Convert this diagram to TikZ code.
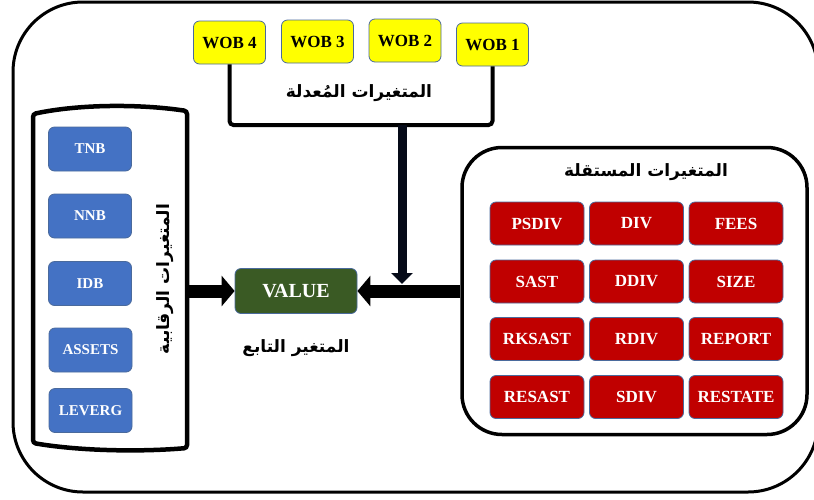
\documentclass[tikz,border=0pt]{standalone}
\usepackage{fontspec}
\setmainfont{Liberation Serif}
\newfontfamily\arabicfont[Script=Arabic]{DejaVu Sans}
\TeXXeTstate=1
\usetikzlibrary{arrows.meta}

\definecolor{wobyellow}{HTML}{FFFF00}
\definecolor{ctrlblue}{HTML}{4472C4}
\definecolor{indred}{HTML}{C00000}
\definecolor{depgreen}{HTML}{3A5A24}
\definecolor{boxline}{HTML}{4A6A9C}
\definecolor{modnavy}{HTML}{050A18}

\tikzset{
  varbox/.style={draw=boxline, line width=0.8pt, rounded corners=6pt, inner sep=0pt, align=center},
  wob/.style={varbox, fill=wobyellow, minimum width=72pt, minimum height=43pt,
    font=\bfseries\fontsize{17}{17}\selectfont},
  ctrl/.style={varbox, fill=ctrlblue, text=white, minimum width=83pt, minimum height=44pt,
    font=\bfseries\fontsize{15}{15}\selectfont},
  indep/.style={varbox, fill=indred, text=white, minimum width=94pt, minimum height=43pt,
    font=\bfseries\fontsize{17}{17}\selectfont},
  dep/.style={varbox, fill=depgreen, text=white, minimum width=122pt, minimum height=45pt,
    font=\bfseries\fontsize{20}{20}\selectfont},
  artitle/.style={font=\arabicfont\bfseries\fontsize{17}{17}\selectfont, inner sep=0pt},
  bigarrow/.style={line width=13pt, -{Triangle[length=13pt,width=30pt]}},
  modarrow/.style={modnavy, line width=9pt, -{Triangle[length=11pt,width=21pt]}},
}

\begin{document}
\begin{tikzpicture}[x=1pt,y=-1pt]
\useasboundingbox (0,0) rectangle (814,499);
\clip (0,0) rectangle (814,499);

\draw[line width=3pt, rounded corners=70pt] (13,2) rectangle (818,492);

% moderating variables
\node[wob] (wob4) at (229.5,42.5) {WOB 4};
\node[wob] (wob3) at (317.5,41.5) {WOB 3};
\node[wob] (wob2) at (405,40.5) {WOB 2};
\node[wob] (wob1) at (492.5,44.5) {WOB 1};
\node[artitle] (modtitle) at (359,93) {\beginR المتغيرات المُعدلة\endR};

\coordinate (join) at (402,125);
\coordinate (hit) at (402,284);
\draw[line width=4pt, rounded corners=4pt] (wob4.south) |- (join) -| (wob1.south);

% dependent variable
\node[dep] (value) at (296,291) {VALUE};
\node[artitle] (deptitle) at (296,348) {\beginR المتغير التابع\endR};

% control variables
\draw[line width=4.5pt, rounded corners=3pt] (33,114) .. controls (80,104) and (140,104) .. (187,111)
  -- (187,448) .. controls (140,452) and (80,451) .. (33,443) -- cycle;
\node[ctrl] (tnb) at (90,149) {TNB};
\node[ctrl] (nnb) at (90,216) {NNB};
\node[ctrl] (idb) at (90,283.5) {IDB};
\node[ctrl] (assets) at (90.5,350) {ASSETS};
\node[ctrl] (leverg) at (90.5,410.5) {LEVERG};
\node[artitle, rotate=90] (ctrltitle) at (165,279) {\beginR المتغيرات الرقابية\endR};
\coordinate (ctrlout) at (188,291);

% independent variables
\node[draw, line width=3.5pt, rounded corners=40pt, minimum width=345pt, minimum height=287pt] (indbox) at (634.5,291) {};
\node[artitle] (indtitle) at (646,172) {\beginR المتغيرات المستقلة\endR};
\node[indep] (psdiv) at (537,223.5) {PSDIV};
\node[indep] (div) at (636.5,223.5) {DIV};
\node[indep] (fees) at (736,223.5) {FEES};
\node[indep] (sast) at (537,281.5) {SAST};
\node[indep] (ddiv) at (636.5,281.5) {DDIV};
\node[indep] (size) at (736,281.5) {SIZE};
\node[indep] (rksast) at (537,339) {RKSAST};
\node[indep] (rdiv) at (636.5,339) {RDIV};
\node[indep] (report) at (736,339) {REPORT};
\node[indep] (resast) at (537,397) {RESAST};
\node[indep] (sdiv) at (636.5,397) {SDIV};
\node[indep] (restate) at (736,397) {RESTATE};

\draw[bigarrow] (ctrlout) -- (value.west);
\draw[bigarrow] (indbox.west) -- (value.east);
\draw[modarrow] (join) -- (hit);
\end{tikzpicture}
\end{document}
